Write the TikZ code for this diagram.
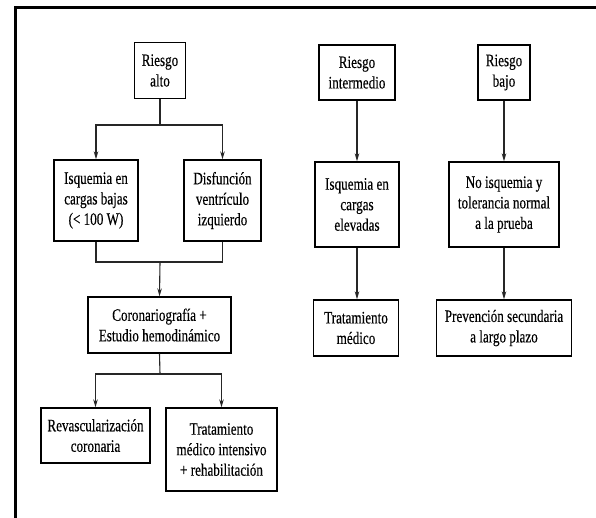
\documentclass[tikz,border=0pt]{standalone}
\usepackage{fontspec}
\setmainfont{Liberation Serif}[FakeStretch=0.75,FakeBold=0.3]
\usetikzlibrary{arrows.meta}
\tikzset{
  box/.style={draw=black, line width=1.3pt, align=center, inner sep=2pt,
    font=\fontsize{17.5pt}{20.5pt}\selectfont, text=black},
  conn/.style={line width=1.1pt, draw=black!85},
  arr/.style={conn, -{Stealth[length=8pt,width=4.5pt]}},
  frame/.style={line width=3pt, black}
}
\begin{document}
\begin{tikzpicture}[x=1pt,y=-1pt]
\useasboundingbox (0,0) rectangle (596,518);
\fill[white] (0,0) rectangle (596,518);
% frame
\coordinate (fA) at (15,518);
\coordinate (fB) at (15,8);
\coordinate (fC) at (596,8);
\draw[frame] (fA) -- (fB) -- (fC);
% left column
\node[box, minimum width=51pt, minimum height=56pt] (ra) at (160,70.5) {Riesgo\\alto};
\node[box, minimum width=84pt, minimum height=81pt] (ib) at (96,200.5) {Isquemia en\\cargas bajas\\(< 100 W)};
\node[box, minimum width=77pt, minimum height=81pt] (dv) at (222.5,200.5) {Disfunción\\ventrículo\\izquierdo};
\node[box, minimum width=143pt, minimum height=56pt] (co) at (159.5,325) {Coronariografía +\\Estudio hemodinámico};
\node[box, minimum width=109pt, minimum height=55pt] (rv) at (95.5,435.5) {Revascularización\\coronaria};
\node[box, minimum width=111pt, minimum height=83pt] (tm) at (221.5,449.5) {Tratamiento\\médico intensivo\\+ rehabilitación};
% middle column
\node[box, minimum width=76pt, minimum height=55pt] (ri) at (357,72.5) {Riesgo\\intermedio};
\node[box, minimum width=84pt, minimum height=85pt] (ie) at (357,204.5) {Isquemia en\\cargas\\elevadas};
\node[box, minimum width=85pt, minimum height=56pt] (td) at (356,328) {Tratamiento\\médico};
% right column
\node[box, minimum width=52pt, minimum height=55pt] (rb) at (504,72.5) {Riesgo\\bajo};
\node[box, minimum width=110pt, minimum height=85pt] (ni) at (504,204.5) {No isquemia y\\tolerancia normal\\a la prueba};
\node[box, minimum width=135pt, minimum height=56pt] (pv) at (504,328) {Prevención secundaria\\a largo plazo};
% connectors
\coordinate (j1) at (160,125);
\coordinate (j2) at (160,262);
\coordinate (j3) at (160,374);
\draw[conn] (ra.south) -- (j1);
\draw[arr] (j1) -| (ib.north);
\draw[arr] (j1) -| (dv.north);
\draw[conn] (ib.south) |- (j2);
\draw[conn] (dv.south) |- (j2);
\draw[arr] (j2) -- (co.north);
\draw[conn] (co.south) -- (j3);
\draw[arr] (j3) -| (rv.north);
\draw[arr] (j3) -| (tm.north);
\draw[arr] (ri.south) -- (ri.south |- ie.north);
\draw[arr] (ie.south) -- (ie.south |- td.north);
\draw[arr] (rb.south) -- (ni.north);
\draw[arr] (ni.south) -- (pv.north);
\end{tikzpicture}
\end{document}
